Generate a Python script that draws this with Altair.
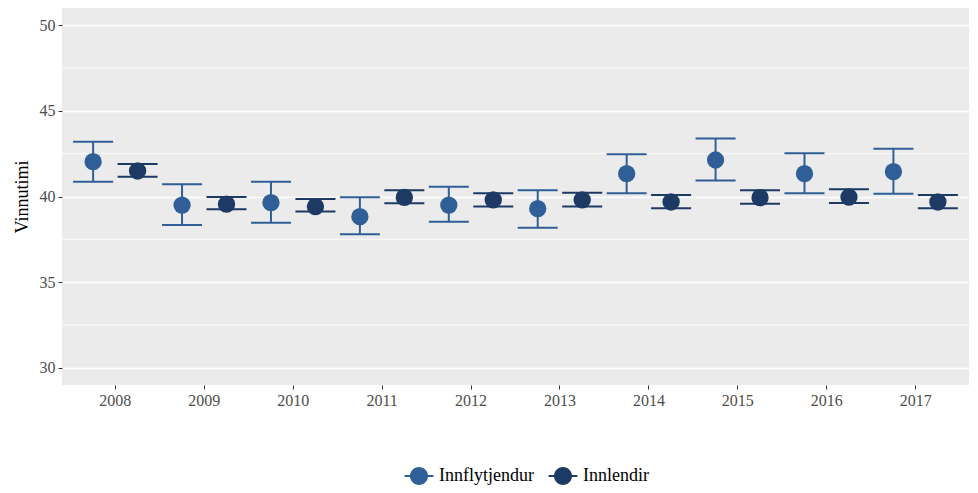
import altair as alt
import pandas as pd

years = ["2008", "2009", "2010", "2011", "2012", "2013", "2014", "2015", "2016", "2017"]
groups = ["Innflytjendur", "Innlendir"]
innfl_mean = [42.03, 39.50, 39.64, 38.82, 39.50, 39.29, 41.33, 42.13, 41.33, 41.45]
innfl_low = [40.86, 38.34, 38.47, 37.79, 38.53, 38.18, 40.19, 40.94, 40.19, 40.16]
innfl_high = [43.20, 40.71, 40.86, 39.95, 40.57, 40.36, 42.46, 43.39, 42.52, 42.79]
innl_mean = [41.49, 39.55, 39.41, 39.95, 39.80, 39.80, 39.68, 39.93, 39.97, 39.68]
innl_low = [41.15, 39.25, 39.12, 39.60, 39.41, 39.41, 39.31, 39.58, 39.62, 39.31]
innl_high = [41.90, 39.97, 39.85, 40.36, 40.19, 40.22, 40.09, 40.36, 40.42, 40.09]
y_ticks = [30, 35, 40, 45, 50]
minor_grid = [32.5, 37.5, 42.5, 47.5]
colors = ["#2F5F96", "#1C3A63"]

rows = []
for i, yr in enumerate(years):
    rows.append({"ar": yr, "hopur": groups[0], "m": innfl_mean[i], "lo": innfl_low[i], "hi": innfl_high[i]})
    rows.append({"ar": yr, "hopur": groups[1], "m": innl_mean[i], "lo": innl_low[i], "hi": innl_high[i]})
df = pd.DataFrame(rows)
grid_df = pd.DataFrame({"g": minor_grid})

FONT = "Liberation Serif"
ydom = alt.Scale(domain=[29, 51], nice=False, zero=False)
xscale = alt.Scale(domain=years, paddingInner=0, paddingOuter=0.1)
cscale = alt.Scale(domain=groups, range=colors)

x_enc = alt.X("ar:N", scale=xscale, sort=years,
              axis=alt.Axis(title=None, labelAngle=0, labelFont=FONT, labelFontSize=16,
                            labelColor="#4D4D4D", tickColor="#333333", tickSize=4,
                            labelPadding=3, domain=False, grid=False))
xo_enc = alt.XOffset("hopur:N", scale=alt.Scale(domain=groups))
c_enc = alt.Color("hopur:N", scale=cscale)

minor = alt.Chart(grid_df).mark_rule(color="white", strokeWidth=0.8).encode(
    y=alt.Y("g:Q", scale=ydom)
)

base = alt.Chart(df)

vline = base.mark_rule(strokeWidth=2, opacity=1).encode(
    x=x_enc, xOffset=xo_enc,
    y=alt.Y("lo:Q", scale=ydom),
    y2="hi:Q",
    color=c_enc,
)
cap_lo = base.mark_tick(size=40, thickness=2, opacity=1).encode(
    x=x_enc, xOffset=xo_enc,
    y=alt.Y("lo:Q", scale=ydom),
    color=c_enc,
)
cap_hi = base.mark_tick(size=40, thickness=2, opacity=1).encode(
    x=x_enc, xOffset=xo_enc,
    y=alt.Y("hi:Q", scale=ydom),
    color=c_enc,
)

sym = "M-1.6,-0.11 L1.6,-0.11 L1.6,0.11 L-1.6,0.11 Z M0,-1 A1,1 0 1,1 0,1 A1,1 0 1,1 0,-1 Z"

points = base.mark_circle(size=300, opacity=1).encode(
    x=x_enc, xOffset=xo_enc,
    y=alt.Y("m:Q", scale=ydom,
            axis=alt.Axis(title="Vinnutimi", values=y_ticks, titleFont=FONT, titleFontSize=18,
                          titleFontWeight="normal", titleColor="black", titlePadding=8,
                          labelFont=FONT, labelFontSize=16, labelColor="#4D4D4D",
                          tickColor="#333333", tickSize=4, labelPadding=3,
                          domain=False, grid=True, gridColor="white", gridWidth=1.6)),
    color=alt.Color("hopur:N", scale=cscale,
                    legend=alt.Legend(title=None, orient="none", direction="horizontal",
                                      legendX=348, legendY=459, symbolType=sym, symbolSize=324,
                                      symbolStrokeWidth=0, symbolOpacity=1,
                                      labelFont=FONT, labelFontSize=18, labelColor="black",
                                      labelOffset=11, columnPadding=14, padding=0)),
)

chart = alt.layer(minor, vline, cap_lo, cap_hi, points).properties(
    width=907, height=377,
    padding={"left": 5, "top": 0, "right": 0, "bottom": 0},
).configure_view(fill="#EBEBEB", stroke=None)

chart.save("out.html", embed_options={"renderer": "svg", "actions": False})
